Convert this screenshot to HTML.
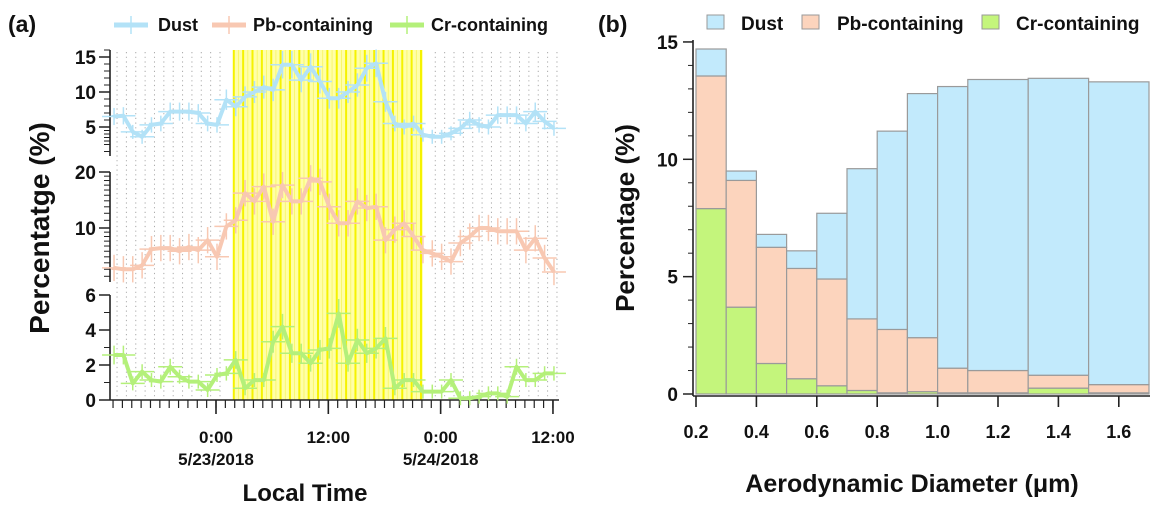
<!DOCTYPE html>
<html><head><meta charset="utf-8"><style>
html,body{margin:0;padding:0;background:#fff}
svg{display:block;font-family:"Liberation Sans",Arial,sans-serif}
.t{font-weight:bold;fill:#111}
</style></head><body>
<svg id="fig" width="1162" height="516" viewBox="0 0 1162 516" xmlns="http://www.w3.org/2000/svg">
<g id="pa"></g>
<g id="pb"></g>
</svg>
<script>
// ---------- Panel (a) data: hourly from 13:00 5/22 to 12:00 5/24 ----------
const dustVals=[6.5,6.6,4.3,3.6,5.3,5.5,7.2,7.2,7.2,7.0,5.5,5.3,8.9,7.9,9.3,10.0,10.7,10.3,13.9,13.9,11.7,13.6,11.5,9.1,9.1,10.0,11.0,13.4,14.1,8.6,5.5,5.0,5.5,3.9,3.6,3.6,4.1,4.8,6.0,5.3,5.0,6.7,6.7,6.7,5.5,7.2,5.8,4.8];
const pbVals=[6.1,6.0,6.0,6.3,7.7,7.8,7.8,7.5,7.9,7.6,8.6,7.0,10.2,11.0,15.4,13.9,16.7,10.8,17.0,13.9,13.9,18.5,17.7,13.0,10.6,10.6,13.9,12.8,13.0,8.6,9.8,10.6,9.0,7.6,7.3,7.0,6.6,8.3,9.0,10.0,10.0,9.6,9.6,9.6,7.6,8.8,6.9,5.8];
const crVals=[2.57,2.57,0.95,1.62,1.14,1.05,1.9,1.33,1.05,1.05,0.57,1.43,1.52,2.29,0.67,1.14,1.14,3.33,4.19,2.67,2.67,2.1,2.86,2.95,4.95,2.1,3.43,2.67,2.95,3.52,0.67,1.14,1.14,0.48,0.48,0.48,1.14,0.1,0.1,0.19,0.38,0.38,0.19,1.9,1.14,1.14,1.52,1.52];
const startHour=-11;
const shadeStart=1.9, shadeEnd=22.1;
const timeTickLabels=["0:00","12:00","0:00","12:00"];
const timeTickHours=[0,12,24,36];
const dateLabels=["5/23/2018","","5/24/2018",""];
const dustTicks=[5,10,15], pbTicks=[10,20], crTicks=[0,2,4,6];

// ---------- Panel (b) data ----------
const binEdges=[0.2,0.3,0.4,0.5,0.6,0.7,0.8,0.9,1.0,1.1,1.3,1.5,1.7];
const crBar=[7.9,3.7,1.3,0.65,0.35,0.15,0.05,0.1,0.05,0.05,0.25,0.05];
const pbTop=[13.55,9.1,6.25,5.35,4.9,3.2,2.75,2.4,1.1,1.0,0.8,0.4];
const dustTop=[14.7,9.5,6.8,6.1,7.7,9.6,11.2,12.8,13.1,13.4,13.45,13.3];
const sizeTicks=[0.2,0.4,0.6,0.8,1.0,1.2,1.4,1.6];
const pctTicks=[0,5,10,15];

const NS="http://www.w3.org/2000/svg";
function mk(parent,tag,attrs,text){const e=document.createElementNS(NS,tag);for(const k in attrs)e.setAttribute(k,attrs[k]);if(text!==undefined)e.textContent=text;parent.appendChild(e);return e;}

const hourPx=9.36, zeroX=216;
const xA=h=>zeroX+h*hourPx;
const yDust=v=>127-(v-5)*7;
const yPb=v=>228-186*Math.log10(v/10);
const yCr=v=>400-v*17.5;
const pa=document.getElementById('pa');
const AX=110;

let e;
e=mk(pa,'text',{x:8,y:32,'font-size':23,class:'t'},'(a)');


e=mk(pa,'rect',{x:xA(shadeStart),y:50,width:xA(shadeEnd)-xA(shadeStart),height:350,fill:'#ffffa8'});

for(let h=shadeStart;h<=shadeEnd+0.01;h+=1){
 e=mk(pa,'line',{x1:xA(h),x2:xA(h),y1:50,y2:400,stroke:'#f5f200','stroke-width':2});
 
 if(h+0.5<shadeEnd){e=mk(pa,'line',{x1:xA(h+0.5),x2:xA(h+0.5),y1:50,y2:400,stroke:'#f8f560','stroke-width':0.8});
 }
}
for(let i=0;i<48;i++){const h=startHour+i; if(h>shadeStart-1&&h<shadeEnd)continue;
 e=mk(pa,'line',{x1:xA(h)+4,x2:xA(h)+4,y1:52,y2:400,stroke:'#aaa','stroke-width':1,'stroke-dasharray':'1.2 3.5'});
 }

function yaxis(y1,y2,ticks,fy,minor){
 e=mk(pa,'line',{x1:AX,x2:AX,y1:y1,y2:y2,stroke:'#222','stroke-width':1.6});
 
 minor.forEach(v=>{const y=fy(v); if(y<y1-1||y>y2+1)return;
  e=mk(pa,'line',{x1:AX-6,x2:AX,y1:y,y2:y,stroke:'#222','stroke-width':1});
  });
 ticks.forEach(v=>{const y=fy(v);
  e=mk(pa,'line',{x1:AX-11,x2:AX,y1:y,y2:y,stroke:'#222','stroke-width':1.5});
  
  e=mk(pa,'text',{x:AX-14,y:y+7,'font-size':19,'text-anchor':'end',class:'t'},String(v));
  });
}
yaxis(50,156,dustTicks,yDust,[1.5,2.5,3,3.5,4,4.5,6,7,8,9,11,12,13,14,16]);
yaxis(172,282,pbTicks,yPb,[5.5,6,6.5,7,7.5,8,8.5,9,9.5,11,12,13,14,15,16,17,18,19]);
yaxis(295,400,crTicks,yCr,[1,3,5]);

e=mk(pa,'line',{x1:AX,x2:559,y1:400,y2:400,stroke:'#222','stroke-width':1.6});

for(let i=0;i<48;i++){const h=startHour+i;
 e=mk(pa,'line',{x1:xA(h),x2:xA(h),y1:400,y2:408,stroke:'#222','stroke-width':1.2});
 }
timeTickHours.forEach((h,i)=>{
 e=mk(pa,'line',{x1:xA(h),x2:xA(h),y1:400,y2:414,stroke:'#222','stroke-width':1.6});
 
 e=mk(pa,'text',{x:xA(h),y:443,'font-size':17,'text-anchor':'middle',class:'t'},timeTickLabels[i]);
 
 if(dateLabels[i]){e=mk(pa,'text',{x:xA(h),y:465,'font-size':17,'text-anchor':'middle',class:'t'},dateLabels[i]);
 }
});
e=mk(pa,'text',{x:305,y:501,'font-size':24,'text-anchor':'middle',class:'t'},'Local Time');

e=mk(pa,'text',{x:0,y:0,'font-size':28,'text-anchor':'middle',class:'t',transform:'translate(49,228) rotate(-90)'},'Percentatge (%)');


function series(vals,fy,color,name,errFrac){
 const g=mk(pa,'g',{});
 
 vals.forEach((v,i)=>{const x=xA(startHour+i)+1,y=fy(v);const dy=Math.max(7,Math.abs(fy(v*(1+errFrac))-y)+4);
  e=mk(g,'line',{x1:x,x2:x,y1:y-dy,y2:y+dy,stroke:color,'stroke-width':1.5});
  
  e=mk(g,'line',{x1:x-12,x2:x+12,y1:y,y2:y,stroke:color,'stroke-width':1.5});
  });
 const pts=vals.map((v,i)=>(xA(startHour+i)+1).toFixed(1)+','+fy(v).toFixed(1)).join(' ');
 e=mk(g,'polyline',{points:pts,fill:'none',stroke:color,'stroke-width':4,'stroke-linejoin':'round'});
 
}
series(dustVals,yDust,'#b3e2f7','dust',0.1);
series(pbVals,yPb,'#f8c8b2','pb',0.12);
series(crVals,v=>yCr(Math.max(0,v)),'#b4f07a','cr',0.12);

const legA=[['Dust','#b3e2f7',114,158],['Pb-containing','#f8c8b2',212,253],['Cr-containing','#b4f07a',390,431]];
legA.forEach(l=>{const g=mk(pa,'g',{});
 
 mk(g,'line',{x1:l[2],x2:l[2]+34,y1:25,y2:25,stroke:l[1],'stroke-width':5});
 mk(g,'line',{x1:l[2]+17,x2:l[2]+17,y1:16,y2:34,stroke:l[1],'stroke-width':1.5});
 mk(g,'text',{x:l[3],y:31,'font-size':18,class:'t'},l[0]);});

// ---- Panel (b) ----
const pb=document.getElementById('pb');
const xB=v=>696+(v-0.2)*302;
const yB=v=>394-v*23.47;
e=mk(pb,'text',{x:598,y:32,'font-size':23,class:'t'},'(b)');

for(let i=0;i<dustTop.length;i++){
 const x0=xB(binEdges[i]),x1=xB(binEdges[i+1]),w=x1-x0;
 const layers=[[0,crBar[i],'#c4f57c','cr'],[crBar[i],pbTop[i],'#fcd4bd','pb'],[pbTop[i],dustTop[i],'#c2eafc','dust']];
 layers.forEach(L=>{e=mk(pb,'rect',{x:x0,y:yB(L[1]),width:w,height:Math.max(0,yB(L[0])-yB(L[1])),fill:L[2],stroke:'#9a9a9a','stroke-width':1.2});
  });
}
e=mk(pb,'line',{x1:693,x2:693,y1:40,y2:396,stroke:'#222','stroke-width':1.6});

e=mk(pb,'line',{x1:693,x2:1150,y1:396,y2:396,stroke:'#222','stroke-width':1.6});

for(let v=1;v<15;v++){if(v%5===0)continue;
 e=mk(pb,'line',{x1:688,x2:693,y1:yB(v),y2:yB(v),stroke:'#222','stroke-width':1});
 }
pctTicks.forEach(v=>{
 e=mk(pb,'line',{x1:683,x2:693,y1:yB(v),y2:yB(v),stroke:'#222','stroke-width':1.5});
 
 e=mk(pb,'text',{x:678,y:yB(v)+7,'font-size':19,'text-anchor':'end',class:'t'},String(v));
 });
sizeTicks.forEach(v=>{
 e=mk(pb,'line',{x1:xB(v),x2:xB(v),y1:396,y2:407,stroke:'#222','stroke-width':1.6});
 
 e=mk(pb,'text',{x:xB(v),y:438,'font-size':18,'text-anchor':'middle',class:'t'},v.toFixed(1));
 });
e=mk(pb,'text',{x:912,y:492,'font-size':25,'text-anchor':'middle',class:'t'},'Aerodynamic Diameter (μm)');

e=mk(pb,'text',{x:0,y:0,'font-size':26,'text-anchor':'middle',class:'t',transform:'translate(634,218) rotate(-90)'},'Percentage (%)');

const legB=[['Dust','#c2eafc',707,741],['Pb-containing','#fcd4bd',802,837],['Cr-containing','#c4f57c',982,1016]];
legB.forEach(l=>{const g=mk(pb,'g',{});
 
 mk(g,'rect',{x:l[2],y:15,width:17,height:14,fill:l[1],stroke:'#999'});
 mk(g,'text',{x:l[3],y:30,'font-size':19,class:'t'},l[0]);});
</script>
</body></html>
